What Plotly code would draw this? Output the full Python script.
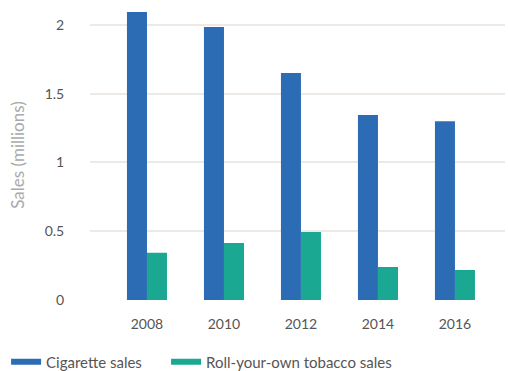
import plotly.graph_objects as go

years = ["2008", "2010", "2012", "2014", "2016"]
cigarette_sales = [2.095, 1.985, 1.65, 1.345, 1.30]
ryo_sales = [0.344, 0.415, 0.495, 0.24, 0.218]
y_ticks = [0, 0.5, 1, 1.5, 2]
y_tick_labels = ["0", "0.5", "1", "1.5", "2"]
legend_names = ["Cigarette sales" + "\u00a0" * 5, "Roll-your-own tobacco sales"]

BLUE = "#2B6CB5"
TEAL = "#1AA892"
FONT = "Lato, 'Noto Sans', sans-serif"

fig = go.Figure()
fig.add_trace(go.Bar(x=years, y=cigarette_sales, name="Cigarette sales",
                     marker=dict(color=BLUE, line=dict(width=0)), showlegend=False))
fig.add_trace(go.Bar(x=years, y=ryo_sales, name="Roll-your-own tobacco sales",
                     marker=dict(color=TEAL, line=dict(width=0)), showlegend=False))
# legend-only line entries
fig.add_trace(go.Scatter(x=[None], y=[None], mode="lines", name=legend_names[0],
                         line=dict(color=BLUE, width=6)))
fig.add_trace(go.Scatter(x=[None], y=[None], mode="lines", name=legend_names[1],
                         line=dict(color=TEAL, width=6)))

fig.update_layout(
    width=508, height=371,
    margin=dict(l=90, r=3, t=10, b=71),
    paper_bgcolor="white", plot_bgcolor="white",
    barmode="group", bargap=0.48, bargroupgap=0,
    font=dict(family=FONT, size=14, color="#555555"),
    showlegend=True,
    legend=dict(orientation="h", xref="container", yref="container",
                x=0.012, y=0.0243, xanchor="left", yanchor="middle",
                font=dict(size=15, color="#555555"), itemwidth=30,
                traceorder="normal"),
    xaxis=dict(type="category", range=[-0.74, 4.65], showgrid=False,
               showline=False, zeroline=False, automargin=False,
               ticks="outside", ticklen=11, tickcolor="rgba(0,0,0,0)",
               tickfont=dict(size=14, color="#555555")),
    yaxis=dict(range=[0, 2.109], tickvals=y_ticks, ticktext=y_tick_labels,
               showgrid=True, gridcolor="#EEE9E4", gridwidth=2,
               zeroline=False, showline=False, automargin=False,
               ticks="outside", ticklen=22, tickcolor="rgba(0,0,0,0)",
               tickfont=dict(size=14, color="#555555"),
               title=dict(text="Sales (millions)", font=dict(size=17, color="#AAAAAA"),
                          standoff=15)),
)

fig.write_html("out.html", config={"displayModeBar": False},
               post_script="document.body.style.margin='0';")
